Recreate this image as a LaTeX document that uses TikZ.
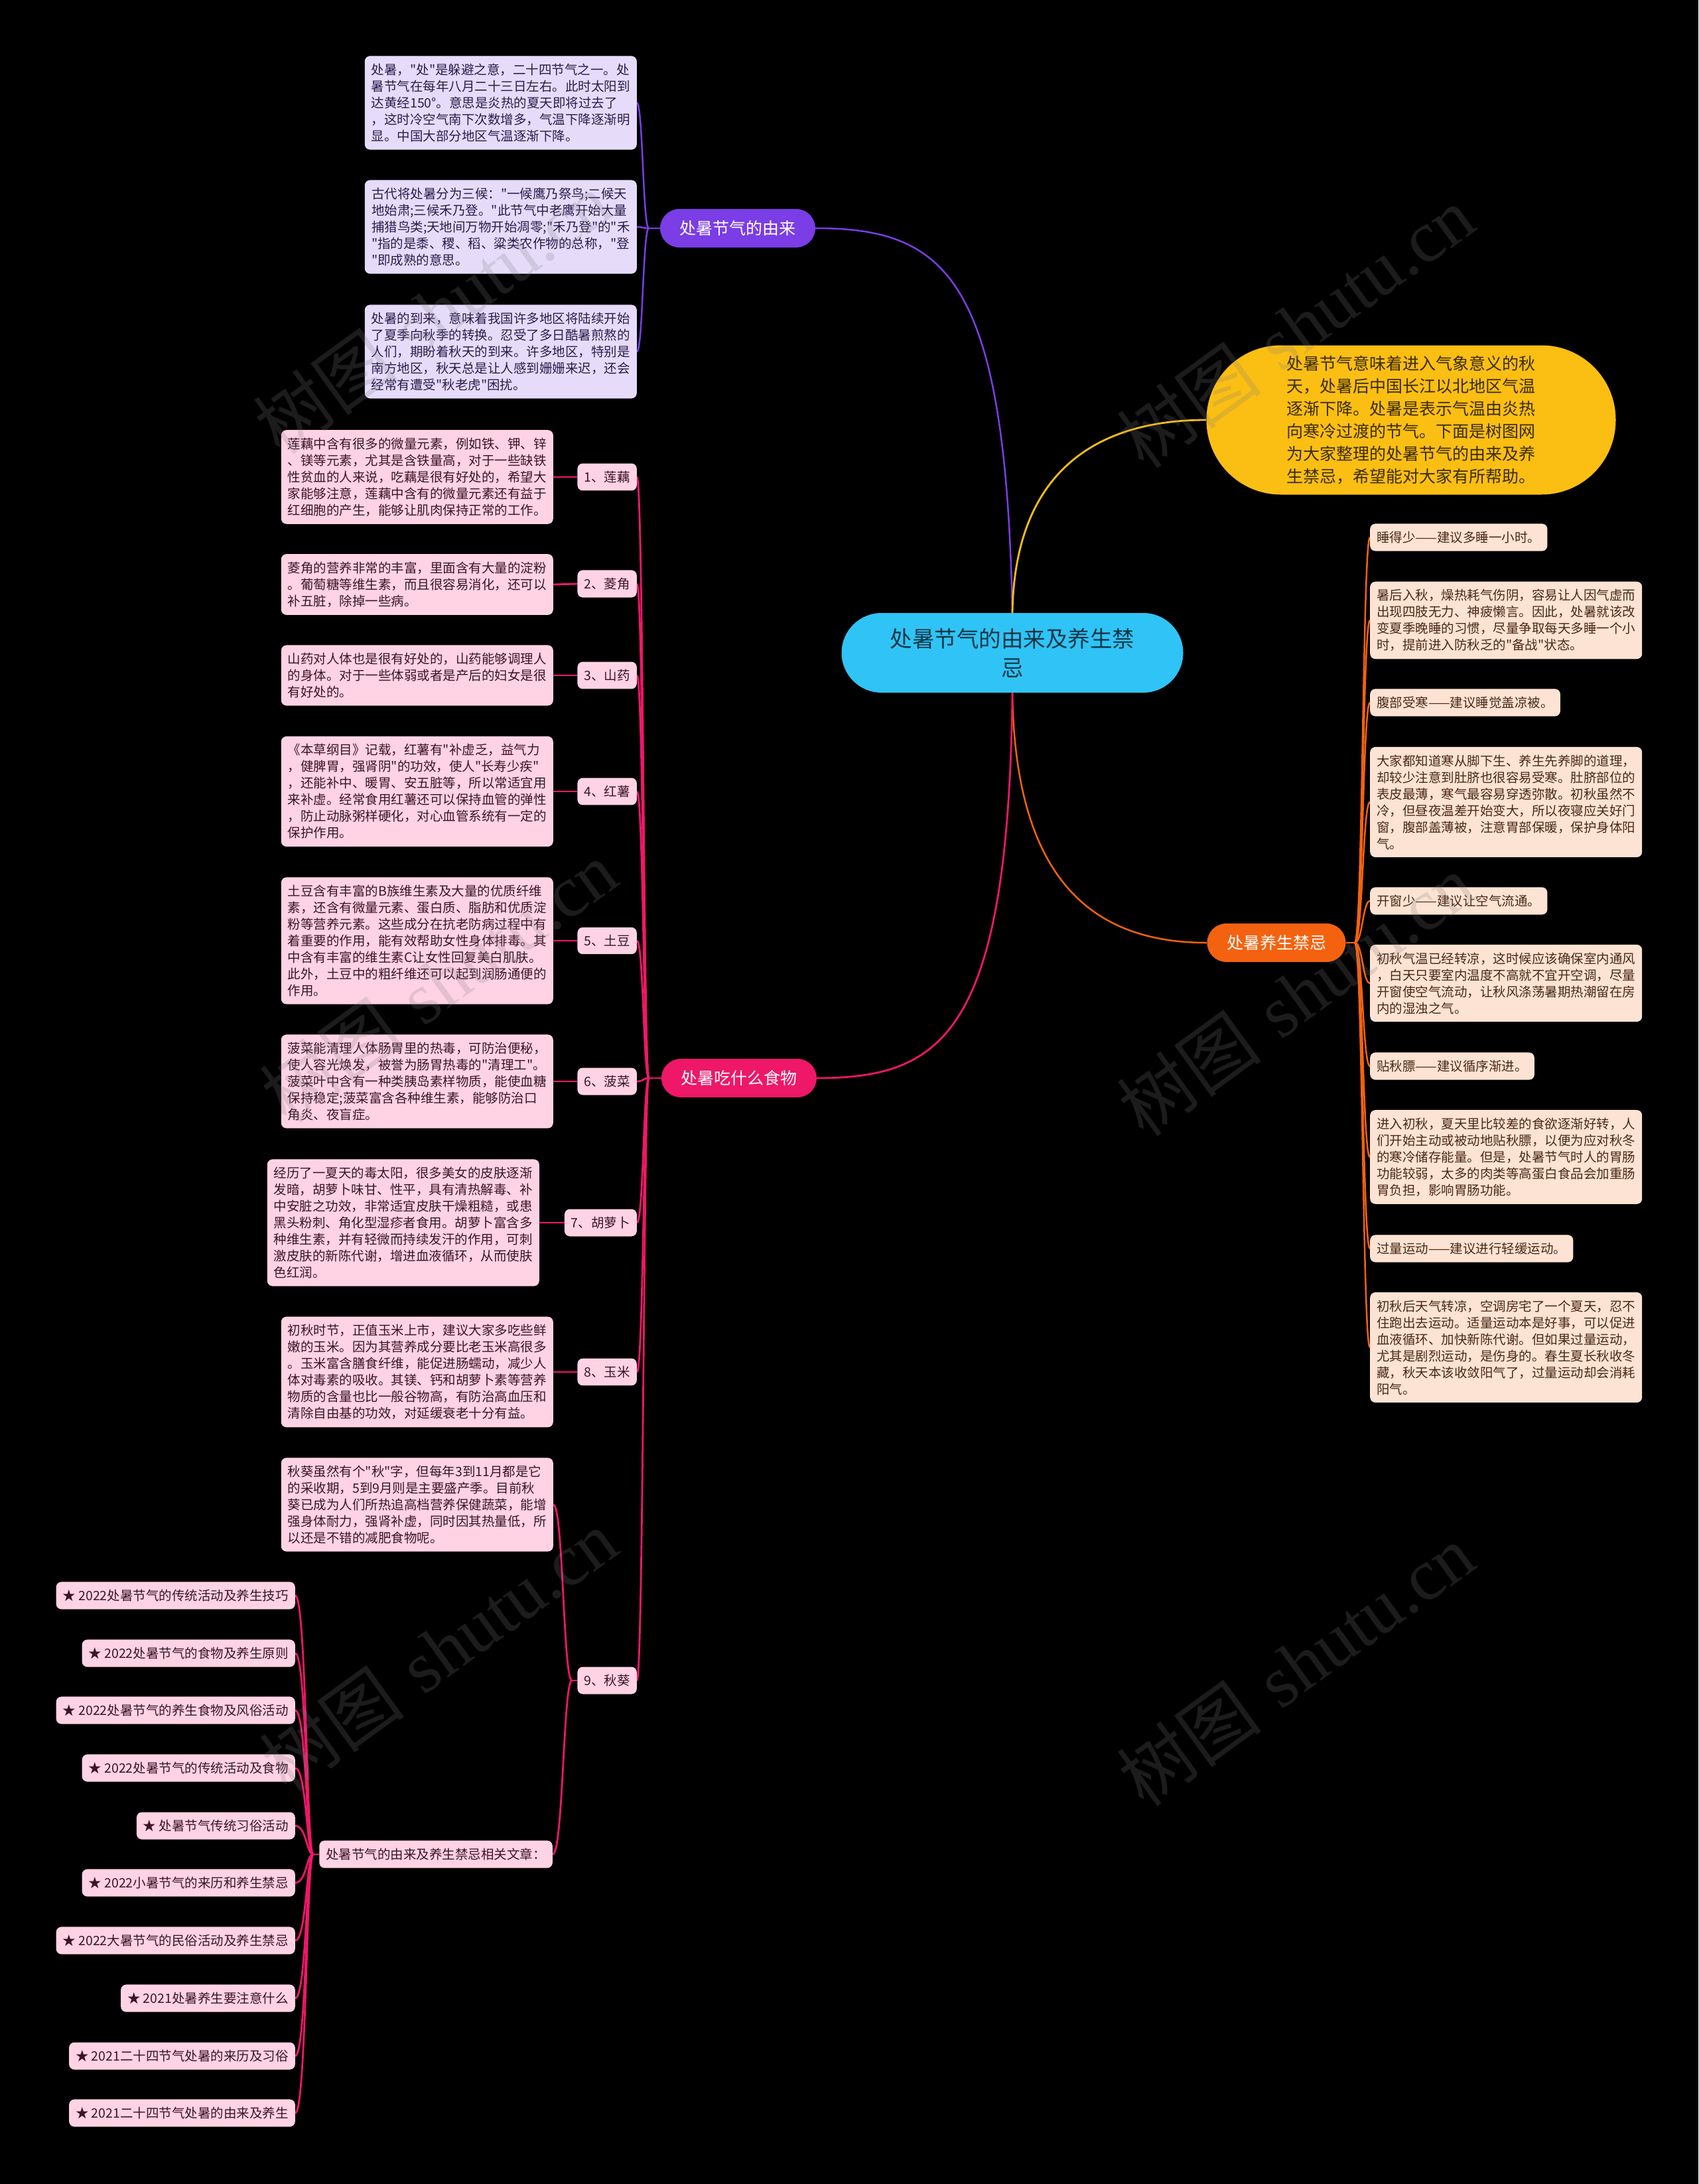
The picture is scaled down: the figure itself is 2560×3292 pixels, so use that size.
\documentclass[tikz,border=0pt]{standalone}
\usepackage{fontspec}
\newfontfamily\cjk{Noto Sans CJK SC}
\newfontfamily\wmserif{Liberation Serif}
\pgfdeclarelayer{back}
\pgfdeclarelayer{lines}
\pgfsetlayers{back,lines,main}
\definecolor{cyanc}{HTML}{2FC4F5}
\definecolor{ctext}{HTML}{123647}
\definecolor{yel}{HTML}{FBBE13}
\definecolor{ytext}{HTML}{3A2C05}
\definecolor{purp}{HTML}{7A3DE6}
\definecolor{lav}{HTML}{E6DCFA}
\definecolor{ptext}{HTML}{2B1C4C}
\definecolor{pinkc}{HTML}{EE1768}
\definecolor{pinkbox}{HTML}{FFD3E4}
\definecolor{ktext}{HTML}{3A1526}
\definecolor{oran}{HTML}{F5620F}
\definecolor{peach}{HTML}{FDE3D3}
\definecolor{otext}{HTML}{4A2816}
\tikzset{
  box/.style={rounded corners=8pt, inner xsep=10pt, inner ysep=11.5pt, align=left,
    font=\cjk\fontsize{19.5}{25}\selectfont},
  wide/.style={minimum width=410pt},
  pbox/.style={box, fill=lav, text=ptext},
  kbox/.style={box, fill=pinkbox, text=ktext},
  obox/.style={box, fill=peach, text=otext},
  branch/.style={rounded corners=29pt, minimum height=58pt, inner xsep=29.5pt,
    font=\cjk\fontsize{25}{30}\selectfont, text=white},
  pl/.style={draw=purp, line width=2.5pt},
  kl/.style={draw=pinkc, line width=2.8pt},
  ol/.style={draw=oran, line width=2.5pt},
  yl/.style={draw=yel, line width=2.8pt},
  wm/.style={rotate=36, text=gray, opacity=0.22, font=\fontsize{110}{110}\selectfont}
}
\begin{document}
\begin{tikzpicture}[x=1pt, y=-1pt]
\begin{pgfonlayer}{back}
  \fill[black] (0,0) rectangle (2560,3292);
\end{pgfonlayer}
\useasboundingbox (0,0) rectangle (2560,3292);

% central
\node[fill=cyanc, text=ctext, minimum width=515pt, minimum height=120pt, rounded corners=60pt,
  align=center, font=\cjk\fontsize{33.5}{44}\selectfont] (c) at (1526,984) {处暑节气的由来及养生禁\\忌};

% yellow intro
\node[fill=yel, text=ytext, minimum width=617pt, minimum height=225pt, rounded corners=112pt,
  align=left, font=\cjk\fontsize{25}{34}\selectfont] (yb) at (2127,633)
  {处暑节气意味着进入气象意义的秋\\天，处暑后中国长江以北地区气温\\逐渐下降。处暑是表示气温由炎热\\向寒冷过渡的节气。下面是树图网\\为大家整理的处暑节气的由来及养\\生禁忌，希望能对大家有所帮助。};

% branches
\node[branch, fill=purp] (br1) at (1112,344) {处暑节气的由来};
\node[branch, fill=oran] (br2) at (1924,1421) {处暑养生禁忌};
\node[branch, fill=pinkc] (br3) at (1114,1625) {处暑吃什么食物};

% purple boxes
\node[pbox, wide, anchor=east] (p1) at (960,155) {处暑，"处"是躲避之意，二十四节气之一。处\\暑节气在每年八月二十三日左右。此时太阳到\\达黄经150°。意思是炎热的夏天即将过去了\\，这时冷空气南下次数增多，气温下降逐渐明\\显。中国大部分地区气温逐渐下降。};
\node[pbox, wide, anchor=east] (p2) at (960,342) {古代将处暑分为三候："一候鹰乃祭鸟;二候天\\地始肃;三候禾乃登。"此节气中老鹰开始大量\\捕猎鸟类;天地间万物开始凋零;"禾乃登"的"禾\\"指的是黍、稷、稻、粱类农作物的总称，"登\\"即成熟的意思。};
\node[pbox, wide, anchor=east] (p3) at (960,530) {处暑的到来，意味着我国许多地区将陆续开始\\了夏季向秋季的转换。忍受了多日酷暑煎熬的\\人们，期盼着秋天的到来。许多地区，特别是\\南方地区，秋天总是让人感到姗姗来迟，还会\\经常有遭受"秋老虎"困扰。};

% food labels
\node[kbox, anchor=east] (l1) at (960,719) {1、莲藕};
\node[kbox, anchor=east] (l2) at (960,880) {2、菱角};
\node[kbox, anchor=east] (l3) at (960,1018) {3、山药};
\node[kbox, anchor=east] (l4) at (960,1193) {4、红薯};
\node[kbox, anchor=east] (l5) at (960,1418) {5、土豆};
\node[kbox, anchor=east] (l6) at (960,1630) {6、菠菜};
\node[kbox, anchor=east] (l7) at (960,1843) {7、胡萝卜};
\node[kbox, anchor=east] (l8) at (960,2068) {8、玉米};
\node[kbox, anchor=east] (l9) at (960,2533) {9、秋葵};

% food descriptions
\node[kbox, wide, anchor=east] (d1) at (834,719) {莲藕中含有很多的微量元素，例如铁、钾、锌\\、镁等元素，尤其是含铁量高，对于一些缺铁\\性贫血的人来说，吃藕是很有好处的，希望大\\家能够注意，莲藕中含有的微量元素还有益于\\红细胞的产生，能够让肌肉保持正常的工作。};
\node[kbox, wide, anchor=east] (d2) at (834,881) {菱角的营养非常的丰富，里面含有大量的淀粉\\。葡萄糖等维生素，而且很容易消化，还可以\\补五脏，除掉一些病。};
\node[kbox, wide, anchor=east] (d3) at (834,1018) {山药对人体也是很有好处的，山药能够调理人\\的身体。对于一些体弱或者是产后的妇女是很\\有好处的。};
\node[kbox, wide, anchor=east] (d4) at (834,1193) {《本草纲目》记载，红薯有"补虚乏，益气力\\，健脾胃，强肾阴"的功效，使人"长寿少疾"\\，还能补中、暖胃、安五脏等，所以常适宜用\\来补虚。经常食用红薯还可以保持血管的弹性\\，防止动脉粥样硬化，对心血管系统有一定的\\保护作用。};
\node[kbox, wide, anchor=east] (d5) at (834,1418) {土豆含有丰富的B族维生素及大量的优质纤维\\素，还含有微量元素、蛋白质、脂肪和优质淀\\粉等营养元素。这些成分在抗老防病过程中有\\着重要的作用，能有效帮助女性身体排毒。其\\中含有丰富的维生素C让女性回复美白肌肤。\\此外，土豆中的粗纤维还可以起到润肠通便的\\作用。};
\node[kbox, wide, anchor=east] (d6) at (834,1630) {菠菜能清理人体肠胃里的热毒，可防治便秘，\\使人容光焕发，被誉为肠胃热毒的"清理工"。\\菠菜叶中含有一种类胰岛素样物质，能使血糖\\保持稳定;菠菜富含各种维生素，能够防治口\\角炎、夜盲症。};
\node[kbox, wide, anchor=east] (d7) at (813,1843) {经历了一夏天的毒太阳，很多美女的皮肤逐渐\\发暗，胡萝卜味甘、性平，具有清热解毒、补\\中安脏之功效，非常适宜皮肤干燥粗糙，或患\\黑头粉刺、角化型湿疹者食用。胡萝卜富含多\\种维生素，并有轻微而持续发汗的作用，可刺\\激皮肤的新陈代谢，增进血液循环，从而使肤\\色红润。};
\node[kbox, wide, anchor=east] (d8) at (834,2068) {初秋时节，正值玉米上市，建议大家多吃些鲜\\嫩的玉米。因为其营养成分要比老玉米高很多\\。玉米富含膳食纤维，能促进肠蠕动，减少人\\体对毒素的吸收。其镁、钙和胡萝卜素等营养\\物质的含量也比一般谷物高，有防治高血压和\\清除自由基的功效，对延缓衰老十分有益。};
\node[kbox, wide, anchor=east] (d9) at (834,2268) {秋葵虽然有个"秋"字，但每年3到11月都是它\\的采收期，5到9月则是主要盛产季。目前秋\\葵已成为人们所热追高档营养保健蔬菜，能增\\强身体耐力，强肾补虚，同时因其热量低，所\\以还是不错的减肥食物呢。};
\node[kbox, anchor=east] (l10) at (833,2795) {处暑节气的由来及养生禁忌相关文章：};

% related articles
\node[kbox, anchor=east] (a1) at (445,2405) {★ 2022处暑节气的传统活动及养生技巧};
\node[kbox, anchor=east] (a2) at (445,2492) {★ 2022处暑节气的食物及养生原则};
\node[kbox, anchor=east] (a3) at (445,2578) {★ 2022处暑节气的养生食物及风俗活动};
\node[kbox, anchor=east] (a4) at (445,2665) {★ 2022处暑节气的传统活动及食物};
\node[kbox, anchor=east] (a5) at (445,2752) {★ 处暑节气传统习俗活动};
\node[kbox, anchor=east] (a6) at (445,2838) {★ 2022小暑节气的来历和养生禁忌};
\node[kbox, anchor=east] (a7) at (445,2925) {★ 2022大暑节气的民俗活动及养生禁忌};
\node[kbox, anchor=east] (a8) at (445,3012) {★ 2021处暑养生要注意什么};
\node[kbox, anchor=east] (a9) at (445,3099) {★ 2021二十四节气处暑的来历及习俗};
\node[kbox, anchor=east] (a10) at (445,3185) {★ 2021二十四节气处暑的由来及养生};

% right (orange) boxes
\node[obox, anchor=west] (r1) at (2065,810) {睡得少——建议多睡一小时。};
\node[obox, wide, anchor=west] (r2) at (2065,935) {暑后入秋，燥热耗气伤阴，容易让人因气虚而\\出现四肢无力、神疲懒言。因此，处暑就该改\\变夏季晚睡的习惯，尽量争取每天多睡一个小\\时，提前进入防秋乏的"备战"状态。};
\node[obox, anchor=west] (r3) at (2065,1059) {腹部受寒——建议睡觉盖凉被。};
\node[obox, wide, anchor=west] (r4) at (2065,1209) {大家都知道寒从脚下生、养生先养脚的道理，\\却较少注意到肚脐也很容易受寒。肚脐部位的\\表皮最薄，寒气最容易穿透弥散。初秋虽然不\\冷，但昼夜温差开始变大，所以夜寝应关好门\\窗，腹部盖薄被，注意胃部保暖，保护身体阳\\气。};
\node[obox, anchor=west] (r5) at (2065,1358) {开窗少——建议让空气流通。};
\node[obox, wide, anchor=west] (r6) at (2065,1482) {初秋气温已经转凉，这时候应该确保室内通风\\，白天只要室内温度不高就不宜开空调，尽量\\开窗使空气流动，让秋风涤荡暑期热潮留在房\\内的湿浊之气。};
\node[obox, anchor=west] (r7) at (2065,1607) {贴秋膘——建议循序渐进。};
\node[obox, wide, anchor=west] (r8) at (2065,1744) {进入初秋，夏天里比较差的食欲逐渐好转，人\\们开始主动或被动地贴秋膘，以便为应对秋冬\\的寒冷储存能量。但是，处暑节气时人的胃肠\\功能较弱，太多的肉类等高蛋白食品会加重肠\\胃负担，影响胃肠功能。};
\node[obox, anchor=west] (r9) at (2065,1882) {过量运动——建议进行轻缓运动。};
\node[obox, wide, anchor=west] (r10) at (2065,2031) {初秋后天气转凉，空调房宅了一个夏天，忍不\\住跑出去运动。适量运动本是好事，可以促进\\血液循环、加快新陈代谢。但如果过量运动，\\尤其是剧烈运动，是伤身的。春生夏长秋收冬\\藏，秋天本该收敛阳气了，过量运动却会消耗\\阳气。};

\begin{pgfonlayer}{lines}
  % main curves
  \draw[pl] (c.north) .. controls (1516,420) and (1428,344) .. (br1.east);
  \draw[yl] (c.north) .. controls (1530,680) and (1690,633) .. (yb.west);
  \draw[ol] (c.south) .. controls (1530,1330) and (1650,1421) .. (br2.west);
  \draw[kl] (c.south) .. controls (1520,1560) and (1420,1625) .. (br3.east);
  % purple tree
  \coordinate (jp) at (978,344);
  \draw[pl] (br1.west) -- (jp);
  \foreach \n/\y in {p1/155, p2/342, p3/530}
    \draw[pl] (jp) .. controls (969,344) and (969,\y) .. (\n.east);
  % food tree
  \coordinate (jf) at (978,1625);
  \draw[kl] (br3.west) -- (jf);
  \foreach \n/\y in {l1/719, l2/880, l3/1018, l4/1193, l5/1418, l6/1630, l7/1843, l8/2068, l9/2533}
    \draw[kl] (jf) .. controls (970,1625) and (970,\y) .. (\n.east);
  \foreach \d/\l in {d1/l1, d2/l2, d3/l3, d4/l4, d5/l5, d6/l6, d7/l7, d8/l8}
    \draw[kl] (\d.east) -- (\l.west);
  % 秋葵 subtree
  \coordinate (j9) at (862,2533);
  \draw[kl] (l9.west) -- (j9);
  \draw[kl] (j9) .. controls (849,2533) and (849,2268) .. (d9.east);
  \draw[kl] (j9) .. controls (849,2533) and (849,2795) .. (l10.east);
  % related articles
  \coordinate (j10) at (472,2795);
  \draw[kl] (l10.west) -- (j10);
  \foreach \n/\y in {a1/2405, a2/2492, a3/2578, a4/2665, a5/2752, a6/2838, a7/2925, a8/3012, a9/3099, a10/3185}
    \draw[kl] (j10) .. controls (462,2795) and (462,\y) .. (\n.east);
  % orange tree
  \coordinate (jo) at (2042,1421);
  \draw[ol] (br2.east) -- (jo);
  \foreach \n/\y in {r1/810, r2/935, r3/1059, r4/1209, r5/1358, r6/1482, r7/1607, r8/1744, r9/1882, r10/2031}
    \draw[ol] (jo) .. controls (2054,1421) and (2054,\y) .. (\n.west);
\end{pgfonlayer}

% watermarks
\node[wm] (w1) at (651,472) {{\cjk 树图} {\wmserif shutu.cn}};
\node[wm] (w2) at (1953,493) {{\cjk 树图} {\wmserif shutu.cn}};
\node[wm] (w3) at (661,1480) {{\cjk 树图} {\wmserif shutu.cn}};
\node[wm] (w4) at (1953,1500) {{\cjk 树图} {\wmserif shutu.cn}};
\node[wm] (w5) at (661,2488) {{\cjk 树图} {\wmserif shutu.cn}};
\node[wm] (w6) at (1953,2510) {{\cjk 树图} {\wmserif shutu.cn}};
\end{tikzpicture}
\end{document}
